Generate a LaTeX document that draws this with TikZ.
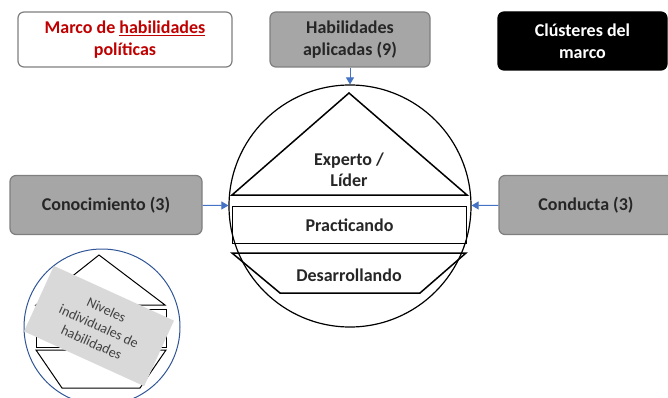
\documentclass[tikz,border=0pt]{standalone}
\usepackage{fontspec}
\setmainfont{Carlito}
\usetikzlibrary{arrows.meta}

\definecolor{boxgray}{HTML}{A6A6A6}
\definecolor{linegray}{HTML}{7F7F7F}
\definecolor{titlered}{HTML}{C00000}
\definecolor{feedblue}{HTML}{4472C4}
\definecolor{ringblue}{HTML}{2F5597}
\definecolor{tagtext}{HTML}{404040}

\tikzset{
  skillbox/.style={draw=linegray, fill=boxgray, line width=1.2pt, rounded corners=6pt,
    text=black!85, font=\bfseries\fontsize{18}{22}\selectfont, align=center, inner sep=0pt},
  feed/.style={feedblue, line width=1pt, -{Triangle[length=7pt,width=8pt]}},
  level/.style={font=\bfseries\fontsize{18}{21}\selectfont, text=black!85, align=center}
}

\begin{document}
\begin{tikzpicture}[x=1pt,y=-1pt]
\clip (0,0) rectangle (668,398);
\useasboundingbox (0,0) rectangle (668,398);

% header and side boxes
\node[skillbox, fill=white, text=titlered, minimum width=214, minimum height=55] (title) at (125,39.5) {Marco de \underline{habilidades}\\políticas};
\node[skillbox, minimum width=160, minimum height=55] (applied) at (350,39.5) {Habilidades\\aplicadas (9)};
\node[skillbox, draw=black, fill=black, text=white, minimum width=169, minimum height=58] (clusters) at (582.5,41) {Clústeres del\\marco};
\node[skillbox, minimum width=192, minimum height=59] (knowledge) at (106,205) {Conocimiento (3)};
\node[skillbox, minimum width=174, minimum height=59] (conduct) at (586,205) {Conducta (3)};

\node[circle, draw, line width=1.2pt, minimum size=242, inner sep=0pt] (ring) at (350,206) {};

\draw[feed] (applied) -- (ring);
\draw[feed] (knowledge) -- (ring);
\draw[feed] (conduct) -- (ring);

% levels inside the ring
\draw[line width=1.5pt] (349,93) -- (467,195) -- (232,195) -- cycle;
\node[level] (expert) at (349,170) {Experto /\\Líder};
\node[level, draw, line width=1.5pt, minimum width=234, minimum height=37, inner sep=0pt] (practice) at (349.5,225) {Practicando};
\draw[line width=1.5pt] (232,253) -- (466,253) -- (420,293) -- (280,293) -- cycle;
\node[level] (develop) at (349,275) {Desarrollando};

% small legend
\draw[ringblue, line width=1pt] (102,327) circle (78);
\draw[line width=1pt] (99,255) -- (165,305) -- (36,305) -- cycle;
\draw[line width=1pt] (36,309) rectangle (166,347);
\draw[line width=1pt] (36,350) -- (166,350) -- (140,388) -- (62,388) -- cycle;
\node[fill=black!15, rotate=-24.5, minimum width=132, minimum height=72, inner sep=0pt, text=tagtext, align=center,
  font=\fontsize{14}{18}\selectfont] (tag) at (99,326) {Niveles\\individuales de\\habilidades};

\end{tikzpicture}
\end{document}
